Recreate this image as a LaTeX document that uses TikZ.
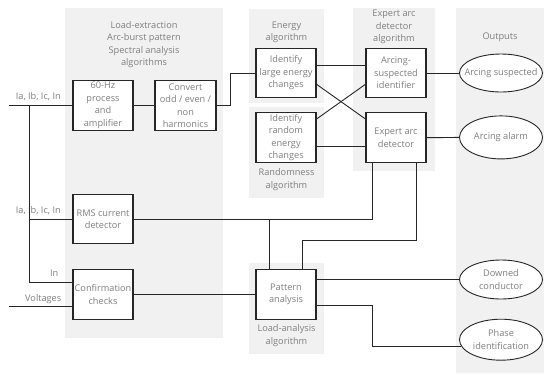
\documentclass[tikz,border=0pt]{standalone}
\usepackage{fontspec}
\setmainfont{Open Sans}
\usetikzlibrary{shapes.geometric}
\definecolor{panelgray}{HTML}{F1F1F1}
\definecolor{txtgray}{HTML}{7F7F7F}
\definecolor{linecol}{HTML}{262626}
\begin{document}
\begin{tikzpicture}[x=1pt,y=-1pt,
  txt/.style={text=txtgray,font=\fontsize{9.2}{12.5}\selectfont,align=center,inner sep=0pt},
  blk/.style={txt,draw=linecol,line width=1.1pt,fill=white,minimum width=60pt,minimum height=50pt},
  oval/.style={ellipse,draw=linecol,line width=0.9pt,fill=white,minimum width=83pt,minimum height=40pt,inner sep=0pt},
  panel/.style={fill=panelgray,draw=none},
  wire/.style={draw=linecol,line width=0.9pt}]
\useasboundingbox (0,0) rectangle (544,373);
\fill[white] (0,0) rectangle (544,373);
% panels
\fill[panel] (65,8) rectangle (223,338);
\fill[panel] (249,9) rectangle (324,103);
\fill[panel] (249,107) rectangle (324,198);
\fill[panel] (353,8) rectangle (435,171);
\fill[panel] (456,8) rectangle (544,373);
\fill[panel] (249,263) rectangle (324,354);
% panel titles
\node[txt] (t1) at (144,44.5) {Load-extraction\\Arc-burst pattern\\Spectral analysis\\algorithms};
\node[txt] (t2) at (286.5,32.5) {Energy\\algorithm};
\node[txt] (t3) at (286.5,179.5) {Randomness\\algorithm};
\node[txt] (t4) at (394,27) {Expert arc\\detector\\algorithm};
\node[txt] (t5) at (500,37.7) {Outputs};
\node[txt] (t6) at (286.5,335.5) {Load-analysis\\algorithm};
% blocks
\node[blk] (hz) at (103,105.5) {60-Hz\\process\\and\\amplifier};
\node[blk,minimum width=61pt] (conv) at (185.5,105.5) {Convert\\odd / even /\\non\\harmonics};
\node[blk,minimum height=49.5pt] (large) at (286,73) {Identify\\large energy\\changes};
\node[blk] (rand) at (286,137.7) {Identify\\random\\energy\\changes};
\node[blk,minimum height=49.5pt] (asi) at (396,73) {Arcing-\\suspected\\identifier};
\node[blk] (exp) at (396,137.7) {Expert arc\\detector};
\node[blk,minimum height=49.5pt] (rms) at (103,219) {RMS current\\detector};
\node[blk] (conf) at (103,294.3) {Confirmation\\checks};
\node[blk] (pat) at (286,294.3) {Pattern\\analysis};
% outputs
\node[oval,minimum height=38pt,label={[txt]center:Arcing suspected}] (e1) at (501,73) {};
\node[oval,minimum height=43pt,label={[txt]center:Arcing alarm}] (e2) at (501,137.4) {};
\node[oval,minimum height=39pt,label={[txt]center:Downed\\conductor}] (e3) at (501,279.5) {};
\node[oval,minimum height=41pt,label={[txt]center:Phase\\identification}] (e4) at (501,339.7) {};
% input labels
\node[txt,anchor=east] (l1) at (61,97) {Ia, Ib, Ic, In};
\node[txt,anchor=east] (l2) at (61,210.5) {Ia, Ib, Ic, In};
\node[txt,anchor=east] (l3) at (58.5,273) {In};
\node[txt,anchor=east] (l4) at (61.5,299) {Voltages};
% coordinates
\coordinate (in1) at (9,105.5);
\coordinate (j1) at (29.3,105.5);
\coordinate (vin) at (9,306);
\coordinate (k) at (0,240.7);
\coordinate (ea) at ([xshift=-23.3pt]exp.south);
\coordinate (eb) at ([xshift=20.3pt]exp.south);
\coordinate (pa) at ([xshift=-17pt]pat.north);
\coordinate (pb) at ([xshift=16.7pt]pat.north);
% wires
\draw[wire] (in1) -- (hz.west);
\draw[wire] (hz.east) -- (conv.west);
\draw[wire] (j1) |- ([yshift=11.6pt]conf.west);
\draw[wire] (j1 |- rms.west) -- (rms.west);
\draw[wire] (vin) -- ([yshift=-11.7pt]conf.west);
\draw[wire] (conv.east) -- ++(13.5,0) |- (large.west);
\draw[wire] ([yshift=8pt]large.east) -- ([yshift=8pt]asi.west);
\draw[wire] ([yshift=-11.3pt]large.east) -- ([yshift=18.7pt]exp.west);
\draw[wire] ([yshift=18.7pt]rand.east) -- ([yshift=-11.3pt]asi.west);
\draw[wire] ([yshift=-9pt]rand.east) -- ([yshift=-9pt]exp.west);
\draw[wire] (asi.east) -- (e1.west);
\draw[wire] (exp.east) -- (e2.west);
\draw[wire] (rms.east) -| (ea);
\draw[wire] (pa) -- (pa |- rms.east);
\draw[wire] (eb) |- (pb |- k) -- (pb);
\draw[wire] (conf.east) -- (pat.west);
\draw[wire] (pat.east |- e3.west) -- (e3.west);
\draw[wire] ([yshift=-11.4pt]pat.east) -- ++(56,0) |- (e4.190);
\end{tikzpicture}
\end{document}
